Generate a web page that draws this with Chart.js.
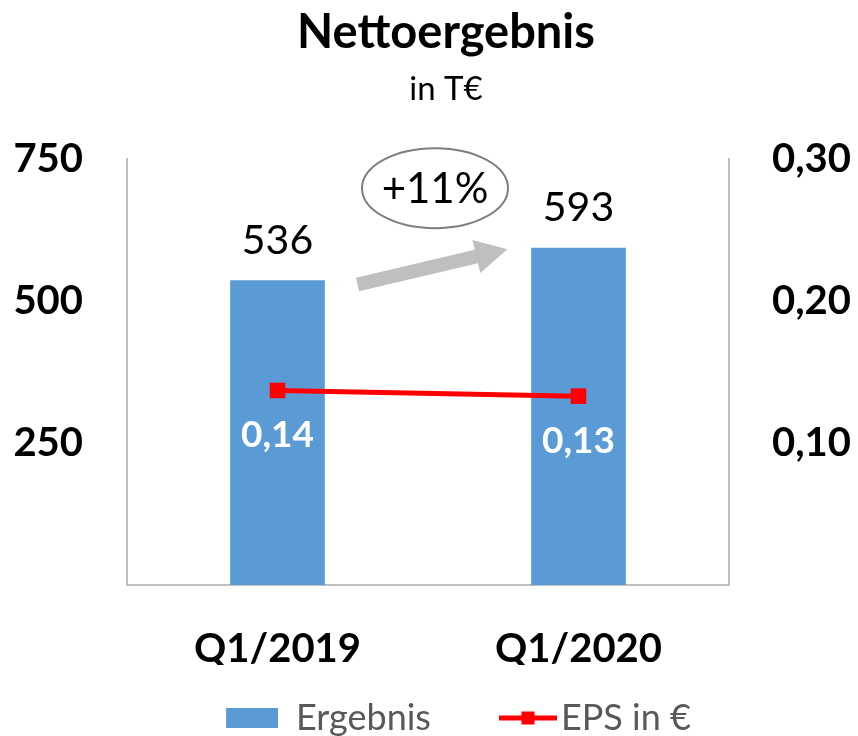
<!DOCTYPE html>
<html>
<head>
<meta charset="utf-8">
<script src="https://cdn.jsdelivr.net/npm/chart.js@4.4.1/dist/chart.umd.min.js"></script>
<style>
  html, body { margin: 0; padding: 0; background: #fff; }
</style>
</head>
<body>
<canvas id="netChart" width="858" height="736"></canvas>
<script>
var quarters = ["Q1/2019", "Q1/2020"];
var ergebnis = [536, 593];
var eps = [0.137, 0.133];
var leftTicks = [250, 500, 750];
var rightTicks = [0.10, 0.20, 0.30];
var growthLabel = "+11%";

var FONT = "Lato, 'Open Sans', sans-serif";
var BLUE = "#5B9BD5";
var RED = "#FF0000";
var AXIS = "#BFBFBF";
var ICON_W = 77;

function fmtEps(v) {
  return v.toFixed(2).replace('.', ',');
}

// legend icons; the line icon is wider than its box so it reaches close to its text
function legendIcon(kind) {
  var c = document.createElement('canvas');
  var g;
  if (kind === 'bar') {
    c.width = ICON_W; c.height = 24;
    g = c.getContext('2d');
    g.fillStyle = BLUE;
    g.fillRect(ICON_W - 52, 2, 52, 20);
  } else {
    c.width = ICON_W + 28; c.height = 24;
    g = c.getContext('2d');
    var end = ICON_W + 28, start = end - 58;
    g.strokeStyle = RED;
    g.lineWidth = 5;
    g.beginPath(); g.moveTo(start, 12); g.lineTo(end, 12); g.stroke();
    g.fillStyle = RED;
    g.fillRect((start + end) / 2 - 6.5, 5.5, 13, 13);
  }
  return c;
}

var annotations = {
  id: 'annotations',
  afterDatasetsDraw: function(chart) {
    var ctx = chart.ctx;
    var bars = chart.getDatasetMeta(0).data;
    var pts = chart.getDatasetMeta(1).data;
    ctx.save();
    ctx.textAlign = 'center';
    ctx.textBaseline = 'middle';

    // values above bars
    ctx.font = '41px ' + FONT;
    ctx.fillStyle = '#000';
    bars.forEach(function(b, i) {
      ctx.fillText(ergebnis[i], b.x, b.y - 40);
    });

    // EPS values below the points
    ctx.font = 'bold 37px ' + FONT;
    ctx.fillStyle = '#fff';
    pts.forEach(function(p, i) {
      ctx.fillText(fmtEps(eps[i]), p.x, p.y + 45);
    });

    // grey growth arrow between the bars
    var b0 = bars[0], b1 = bars[1];
    var sx = b0.x + b0.width / 2 + 33, sy = b0.y + 4;
    var tx = b1.x - b1.width / 2 - 24, ty = b1.y + 1;
    var dx = tx - sx, dy = ty - sy, len = Math.sqrt(dx * dx + dy * dy);
    var ux = dx / len, uy = dy / len, nx = -uy, ny = ux;
    var headLen = 32, headW = 17, shaftW = 7;
    var ex = tx - ux * headLen, ey = ty - uy * headLen;
    ctx.fillStyle = '#BFBFBF';
    ctx.beginPath();
    ctx.moveTo(sx + nx * shaftW, sy + ny * shaftW);
    ctx.lineTo(ex + nx * shaftW, ey + ny * shaftW);
    ctx.lineTo(ex + nx * headW, ey + ny * headW);
    ctx.lineTo(tx, ty);
    ctx.lineTo(ex - nx * headW, ey - ny * headW);
    ctx.lineTo(ex - nx * shaftW, ey - ny * shaftW);
    ctx.lineTo(sx - nx * shaftW, sy - ny * shaftW);
    ctx.closePath();
    ctx.fill();

    // ellipse with growth rate
    var cx = (b0.x + b1.x) / 2 + 7, cy = b1.y - 60;
    ctx.strokeStyle = '#7F7F7F';
    ctx.lineWidth = 2;
    ctx.fillStyle = '#fff';
    ctx.beginPath();
    ctx.ellipse(cx, cy, 73, 40, 0, 0, Math.PI * 2);
    ctx.fill();
    ctx.stroke();
    ctx.font = '42px ' + FONT;
    ctx.fillStyle = '#000';
    ctx.fillText(growthLabel, cx, cy + 1);

    ctx.restore();
  }
};

var tickFont = { family: FONT, size: 40, weight: 'bold' };

new Chart(document.getElementById('netChart'), {
  data: {
    labels: quarters,
    datasets: [{
      type: 'bar',
      label: 'Ergebnis',
      data: ergebnis,
      backgroundColor: BLUE,
      yAxisID: 'y',
      barThickness: 94,
      order: 1
    }, {
      type: 'line',
      label: 'EPS in €',
      data: eps,
      yAxisID: 'y2',
      borderColor: RED,
      backgroundColor: RED,
      borderWidth: 5,
      pointStyle: 'rect',
      pointRadius: 11,
      pointBorderWidth: 0,
      order: 0
    }]
  },
  options: {
    responsive: false,
    animation: false,
    events: [],
    // the original is not centred on the canvas: title sits a bit to the right
    layout: { padding: { left: 0, right: -34, top: 0, bottom: -10 } },
    plugins: {
      title: {
        display: true,
        text: 'Nettoergebnis',
        color: '#000',
        font: { family: FONT, size: 47, weight: 'bold' },
        padding: { top: 5, bottom: 0 }
      },
      subtitle: {
        display: true,
        text: 'in T€',
        color: '#000',
        font: { family: FONT, size: 33 },
        padding: { top: 8, bottom: 50 }
      },
      legend: {
        position: 'bottom',
        labels: {
          usePointStyle: true,
          pointStyleWidth: ICON_W,
          padding: 35,
          color: '#595959',
          font: { family: FONT, size: 36 },
          generateLabels: function() {
            return [
              { text: 'Ergebnis', pointStyle: legendIcon('bar'), fontColor: '#595959', lineWidth: 0, datasetIndex: 0 },
              { text: 'EPS in €', pointStyle: legendIcon('line'), fontColor: '#595959', lineWidth: 0, datasetIndex: 1 }
            ];
          }
        }
      },
      tooltip: { enabled: false }
    },
    scales: {
      x: {
        grid: { display: false, drawTicks: false },
        border: { display: true, color: AXIS, width: 2 },
        ticks: { color: '#000', font: tickFont, padding: 40 },
        afterFit: function(s) { s.height = 80; }
      },
      y: {
        position: 'left',
        min: 0,
        max: 750,
        grid: { display: false, drawTicks: false },
        border: { display: true, color: AXIS, width: 2 },
        afterBuildTicks: function(s) {
          s.ticks = leftTicks.map(function(v) { return { value: v }; });
        },
        ticks: { color: '#000', font: tickFont, padding: 44 },
        afterFit: function(s) { s.width = 127; }
      },
      y2: {
        position: 'right',
        min: 0,
        max: 0.3,
        grid: { display: false, drawTicks: false },
        border: { display: true, color: AXIS, width: 2 },
        afterBuildTicks: function(s) {
          s.ticks = rightTicks.map(function(v) { return { value: v }; });
        },
        ticks: {
          color: '#000',
          font: tickFont,
          padding: 43,
          callback: function(v) { return fmtEps(v); }
        },
        afterFit: function(s) { s.width = 163; }
      }
    }
  },
  plugins: [annotations]
});
</script>
</body>
</html>
